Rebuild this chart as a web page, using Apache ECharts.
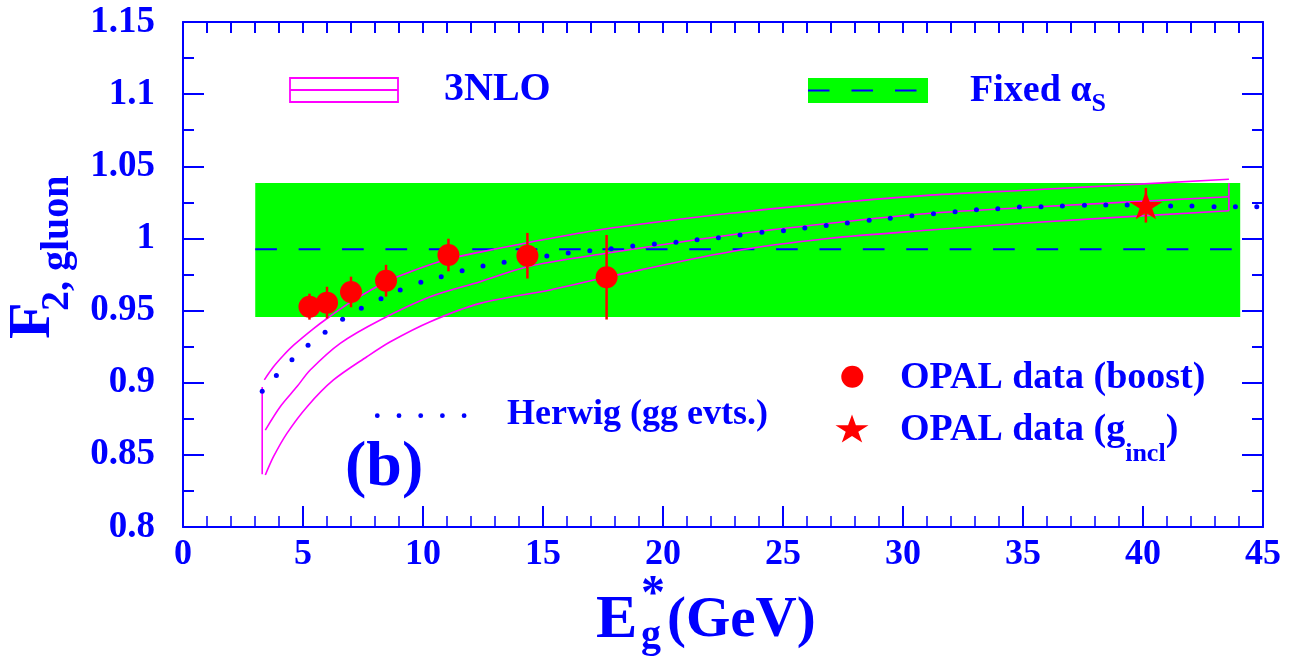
<!DOCTYPE html>
<html><head><meta charset="utf-8">
<script src="https://cdn.jsdelivr.net/npm/echarts@6/dist/echarts.min.js"></script>
<style>html,body{margin:0;padding:0;background:#fff}#c{width:1291px;height:658px}</style>
</head><body><div id="c"></div>
<script>
// ---------- data ----------
const xRange = [0, 45];
const yRange = [0.8, 1.15];

// OPAL data (boost): energy, value, error
const opalBoostE   = [5.27, 6.00, 7.00, 8.46, 11.06, 14.35, 17.65];
const opalBoostF   = [0.9527, 0.9555, 0.9629, 0.9707, 0.9885, 0.9880, 0.9731];
const opalBoostErr = [0.009, 0.011, 0.0106, 0.011, 0.0113, 0.0158, 0.0293];

// OPAL data (g_incl)
const opalInclE   = [40.12];
const opalInclF   = [1.023];
const opalInclErr = [0.012];

// Fixed alpha_s band
const fixedAsE    = [3.01, 44.05];
const fixedAsF    = 0.9925;
const fixedAsBand = [0.9456, 1.0384];

// 3NLO band curves [E, F]
const nloUpper = [[3.39,0.902],[3.77,0.911],[4.19,0.919],[4.61,0.926],[5.44,0.9375],[6.00,0.9445],[7.00,0.956],[8.46,0.970],[9.50,0.977],[11.0,0.9855],[12.38,0.9905],[14.35,0.997],[17.38,1.006],[22.80,1.0174],[26.96,1.0243],[31.13,1.030],[35.29,1.0336],[43.58,1.041]];
const nloCentral = [[3.43,0.8672],[4.05,0.8834],[4.75,0.8973],[5.30,0.9088],[6.55,0.9273],[8.22,0.9435],[10.30,0.9596],[12.38,0.9700],[14.35,0.9804],[17.64,0.9897],[22.80,1.0024],[26.96,1.0105],[31.13,1.0174],[35.29,1.0216],[43.58,1.0289]];
const nloLower = [[3.43,0.836],[3.77,0.8487],[4.33,0.8649],[5.17,0.8834],[6.27,0.9019],[7.66,0.918],[8.64,0.9284],[10.30,0.9423],[12.38,0.955],[15.30,0.9643],[17.64,0.9731],[22.80,0.9908],[26.96,1.0001],[31.13,1.0058],[35.29,1.0109],[43.58,1.0192]];
const nloLeftEdge  = [[3.30,0.8365],[3.30,0.897]];
const nloRightEdge = [[43.58,1.0382],[43.58,1.0192]];

// Herwig (gg evts.) dots
const herwigE = [3.30,3.89,4.54,5.21,5.92,6.65,7.43,8.25,9.05,9.91,10.76,11.63,12.50,13.38,14.27,15.16,16.05,16.95,17.84,18.74,19.64,20.54,21.42,22.31,23.21,24.12,25.02,25.91,26.80,27.68,28.59,29.47,30.37,31.27,32.17,33.06,33.95,34.85,35.75,36.64,37.56,38.45,39.34,40.25,41.15,42.04,42.96,43.85,44.74];
const herwigF = [0.894,0.905,0.916,0.926,0.935,0.944,0.9516,0.9582,0.9643,0.9696,0.9735,0.9776,0.9809,0.9835,0.9857,0.9878,0.9899,0.9915,0.9929,0.9948,0.9961,0.9973,0.9991,1.0005,1.0024,1.0043,1.0054,1.0072,1.0090,1.0107,1.0126,1.0140,1.0158,1.0171,1.0185,1.0199,1.0206,1.0217,1.0220,1.0225,1.0230,1.0232,1.0232,1.0230,1.0225,1.0225,1.0220,1.0220,1.0220];

// ---------- styling ----------
const BLUE = '#0000ff', MAG = '#ff00ff', GREEN = '#00ff00', RED = '#ff0000';
const FAM = '"Liberation Serif", "Times New Roman", serif';
const STAR = 'path://M0,-10L2.245,-3.09L9.511,-3.09L3.633,1.18L5.878,8.09L0,3.82L-5.878,8.09L-3.633,1.18L-9.511,-3.09L-2.245,-3.09Z';

const chart = echarts.init(document.getElementById('c'));

function axisX(pos, interval, showLabel, tickLen, minor) {
  return {
    type: 'value', position: pos, min: xRange[0], max: xRange[1], interval: interval,
    axisLine: { show: true, onZero: false, lineStyle: { color: BLUE, width: 2 } },
    axisTick: { show: true, inside: true, length: tickLen, lineStyle: { color: BLUE, width: 2 } },
    minorTick: { show: minor, splitNumber: 5, length: 11, lineStyle: { color: BLUE, width: 1.5 } },
    splitLine: { show: false }, minorSplitLine: { show: false },
    axisLabel: { show: showLabel, color: BLUE, fontFamily: FAM, fontWeight: 'bold', fontSize: 36, margin: 10 }
  };
}
function axisY(pos, showLabel) {
  return {
    type: 'value', position: pos, min: yRange[0], max: yRange[1], interval: 0.05,
    axisLine: { show: true, onZero: false, lineStyle: { color: BLUE, width: 2 } },
    axisTick: { show: true, inside: true, length: 21, lineStyle: { color: BLUE, width: 2 } },
    minorTick: { show: true, splitNumber: 2, length: 11, lineStyle: { color: BLUE, width: 2 } },
    splitLine: { show: false }, minorSplitLine: { show: false },
    axisLabel: { show: showLabel, color: BLUE, fontFamily: FAM, fontWeight: 'bold', fontSize: 37, margin: 28 }
  };
}

function errBars(E, F, Er, z) {
  return {
    type: 'custom', coordinateSystem: 'cartesian2d', z: z, silent: true,
    encode: { x: 0, y: [1, 2] },
    data: E.map((e, i) => [e, F[i] - Er[i], F[i] + Er[i]]),
    renderItem: (params, api) => {
      const a = api.coord([api.value(0), api.value(1)]);
      const b = api.coord([api.value(0), api.value(2)]);
      return { type: 'line', shape: { x1: a[0], y1: a[1], x2: b[0], y2: b[1] }, style: { stroke: RED, lineWidth: 2.5 } };
    }
  };
}
function magLine(data, z) {
  return { type: 'line', data: data, smooth: 0.3, showSymbol: false, symbol: 'none', z: z, silent: true,
           lineStyle: { color: MAG, width: 1.6 } };
}

const option = {
  animation: false,
  grid: { left: 183, right: 28, top: 22, bottom: 131 },
  xAxis: [axisX('bottom', 5, true, 21, true), axisX('top', 1, false, 11, false)],
  yAxis: [axisY('left', true), axisY('right', false)],
  series: [
    { type: 'custom', coordinateSystem: 'cartesian2d', z: 1, silent: true,
      encode: { x: [0, 2], y: [1, 3] },
      data: [[fixedAsE[0], fixedAsBand[0], fixedAsE[1], fixedAsBand[1]]],
      renderItem: (params, api) => {
        const a = api.coord([api.value(0), api.value(3)]);
        const b = api.coord([api.value(2), api.value(1)]);
        return { type: 'rect', shape: { x: a[0], y: a[1], width: b[0] - a[0], height: b[1] - a[1] }, style: { fill: GREEN } };
      } },
    { type: 'line', z: 2, silent: true, symbol: 'none', data: [[fixedAsE[0], fixedAsF], [fixedAsE[1], fixedAsF]],
      lineStyle: { color: BLUE, width: 2, type: [21.7, 21.7] } },
    magLine(nloUpper, 3), magLine(nloCentral, 3), magLine(nloLower, 3),
    { type: 'line', data: nloLeftEdge, symbol: 'none', z: 3, silent: true, lineStyle: { color: MAG, width: 1.6 } },
    { type: 'line', data: nloRightEdge, symbol: 'none', z: 3, silent: true, lineStyle: { color: MAG, width: 1.6 } },
    { type: 'scatter', z: 4, silent: true, symbol: 'circle', symbolSize: 5, itemStyle: { color: BLUE, opacity: 1 },
      data: herwigE.map((e, i) => [e, herwigF[i]]) },
    errBars(opalBoostE, opalBoostF, opalBoostErr, 5),
    errBars(opalInclE, opalInclF, opalInclErr, 5),
    { type: 'scatter', z: 6, silent: true, symbol: 'circle', symbolSize: 22, itemStyle: { color: RED, opacity: 1 },
      data: opalBoostE.map((e, i) => [e, opalBoostF[i]]) },
    { type: 'scatter', z: 6, silent: true, symbol: STAR, symbolSize: [33, 28], symbolKeepAspect: false, itemStyle: { color: RED, opacity: 1 },
      data: opalInclE.map((e, i) => [e, opalInclF[i]]) }
  ]
};
chart.setOption(option);

// ---------- text / legend decorations ----------
const mctx = document.createElement('canvas').getContext('2d');
function fontStr(size) { return 'bold ' + size + 'px ' + FAM; }
function tw(text, size) { mctx.font = fontStr(size); return mctx.measureText(text).width; }
function T(text, x, y, size, extra) {
  return Object.assign({ type: 'text', x: x, y: y, silent: true, z: 100,
    style: { text: text, fill: BLUE, font: fontStr(size), align: 'left', verticalAlign: 'middle',
             textAlign: 'left', textVerticalAlign: 'middle' } }, extra || {});
}
function seq(x, parts, extra) {
  const out = [];
  let cx = x;
  parts.forEach(p => { out.push(T(p[0], cx, p[2], p[1], extra)); cx += tw(p[0], p[1]) + (p[3] || 0); });
  return out;
}
function starPts(cx, cy, w, h) {
  const raw = [[0,-10],[2.245,-3.09],[9.511,-3.09],[3.633,1.18],[5.878,8.09],[0,3.82],[-5.878,8.09],[-3.633,1.18],[-9.511,-3.09],[-2.245,-3.09]];
  return raw.map(p => [cx + p[0] / 19.022 * w, cy + (p[1] + 0.955) / 18.09 * h]);
}

const g = [];
// 3NLO legend
g.push({ type: 'rect', silent: true, z: 100, shape: { x: 290, y: 78, width: 108, height: 24 }, style: { fill: 'none', stroke: MAG, lineWidth: 1.8 } });
g.push({ type: 'line', silent: true, z: 100, shape: { x1: 290, y1: 90, x2: 398, y2: 90 }, style: { stroke: MAG, lineWidth: 1.8 } });
g.push(T('3NLO', 444, 90, 40));
// Fixed alpha_s legend
g.push({ type: 'rect', silent: true, z: 100, shape: { x: 808, y: 78, width: 120, height: 25 }, style: { fill: GREEN } });
g.push({ type: 'line', silent: true, z: 101, shape: { x1: 808, y1: 90.5, x2: 928, y2: 90.5 }, style: { stroke: BLUE, lineWidth: 2, lineDash: [21.5, 22] } });
seq(970, [['Fixed ', 38, 91], ['\u03b1', 38, 91], ['S', 26, 104]]).forEach(e => g.push(e));
// OPAL legends
g.push({ type: 'circle', silent: true, z: 100, shape: { cx: 852.3, cy: 376.7, r: 11 }, style: { fill: RED } });
g.push(T('OPAL data (boost)', 900, 378, 38));
g.push({ type: 'polygon', silent: true, z: 100, shape: { points: starPts(852, 428.5, 33, 28) }, style: { fill: RED } });
seq(900, [['OPAL data (g', 38, 430.5], ['incl', 26, 454], [')', 38, 430.5]]).forEach(e => g.push(e));
// Herwig legend
for (let i = 0; i < 5; i++) g.push({ type: 'circle', silent: true, z: 100, shape: { cx: 377.3 + i * 21.7, cy: 415.7, r: 2.4 }, style: { fill: BLUE } });
g.push(T('Herwig (gg evts.)', 507, 415, 36));
// (b)
g.push(T('(b)', 345, 468, 64));
// y axis title (rotated)
g.push(T('F', 33, 339, 60, { rotation: Math.PI / 2 }));
g.push(T('2, gluon', 58, 311, 40, { rotation: Math.PI / 2 }));
// x axis title
g.push(T('E', 596, 621, 62));
g.push(T('*', 641, 596, 48));
g.push(T('g', 641, 637, 40));
g.push(T('(GeV)', 667, 621, 57));

chart.setOption({ graphic: { elements: g } });
</script>
</body></html>
